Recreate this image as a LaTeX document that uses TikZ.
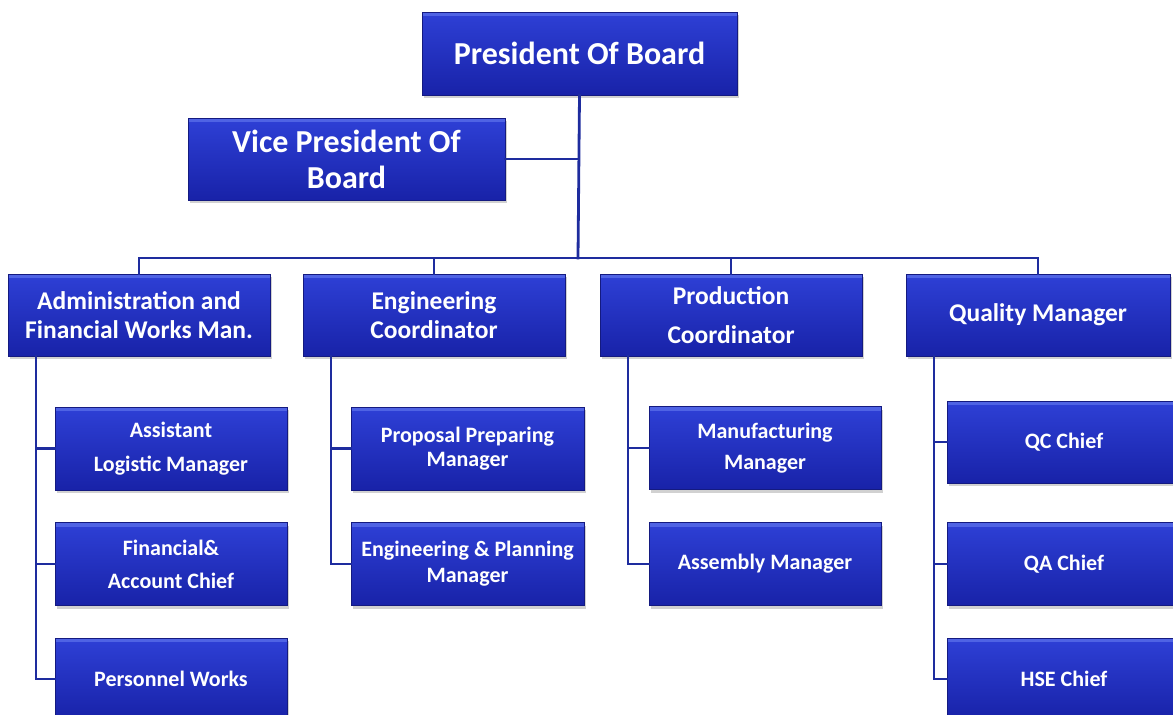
\documentclass[tikz,border=0pt]{standalone}
\usepackage{fontspec}
\setmainfont{Carlito}
\usetikzlibrary{shadows}
\definecolor{boxtop}{RGB}{46,64,214}
\definecolor{boxbot}{RGB}{24,34,168}
\definecolor{boxedge}{RGB}{20,26,128}
\definecolor{boxbevel}{RGB}{88,108,232}
\definecolor{wire}{RGB}{30,44,158}
\tikzset{
  orgbox/.style={rectangle, draw=boxedge, line width=0.6pt, top color=boxtop, bottom color=boxbot,
    text=white, align=center, inner sep=0pt, font=\bfseries,
    drop shadow={shadow xshift=2pt, shadow yshift=-3pt, opacity=0.3, fill=black!60},
    path picture={\fill[boxbevel,opacity=0.8] (path picture bounding box.north west) rectangle ([yshift=-4pt]path picture bounding box.north east);}},
  wireline/.style={draw=wire, line width=2.8pt, line cap=rect}
}
\begin{document}
\begin{tikzpicture}[x=1pt,y=-1pt]
\useasboundingbox (0,0) rectangle (1173,715);
% level 0
\node[orgbox, minimum width=315pt, minimum height=83pt, font=\bfseries\fontsize{32}{36}\selectfont] (pres) at (579.5,53.5) {President Of Board};
\node[orgbox, minimum width=317pt, minimum height=82pt, font=\bfseries\fontsize{32}{36}\selectfont] (vice) at (346.5,159) {Vice President Of\\Board};
% level 1
\node[orgbox, minimum width=262pt, minimum height=82pt, font=\bfseries\fontsize{25.5}{29}\selectfont] (admin) at (139,315) {Administration and\\Financial Works Man.};
\node[orgbox, minimum width=262pt, minimum height=82pt, font=\bfseries\fontsize{25.5}{29}\selectfont] (eng) at (434,315) {Engineering\\Coordinator};
\node[orgbox, minimum width=262pt, minimum height=82pt, font=\bfseries\fontsize{25.5}{39}\selectfont] (prod) at (731,315) {Production\\Coordinator};
\node[orgbox, minimum width=264pt, minimum height=82pt, font=\bfseries\fontsize{25.5}{29}\selectfont] (qual) at (1038,315) {Quality Manager};
% level 2 - admin
\node[orgbox, minimum width=232pt, minimum height=83pt, font=\bfseries\fontsize{22}{34}\selectfont] (asst) at (171,448.5) {Assistant\\Logistic Manager};
\node[orgbox, minimum width=232pt, minimum height=83pt, font=\bfseries\fontsize{22}{33}\selectfont] (fin) at (171,564) {Financial\&\\Account Chief};
\node[orgbox, minimum width=232pt, minimum height=82pt, font=\bfseries\fontsize{22}{26}\selectfont] (pers) at (171,679) {Personnel Works};
% level 2 - engineering
\node[orgbox, minimum width=233pt, minimum height=83pt, font=\bfseries\fontsize{22}{24}\selectfont] (prop) at (467.5,448.5) {Proposal Preparing\\Manager};
\node[orgbox, minimum width=233pt, minimum height=83pt, font=\bfseries\fontsize{22}{26}\selectfont] (engp) at (467.5,564) {Engineering \& Planning\\Manager};
% level 2 - production
\node[orgbox, minimum width=232pt, minimum height=83pt, font=\bfseries\fontsize{22}{31}\selectfont] (manu) at (765,448) {Manufacturing\\Manager};
\node[orgbox, minimum width=232pt, minimum height=83pt, font=\bfseries\fontsize{22}{26}\selectfont] (asm) at (765,564) {Assembly Manager};
% level 2 - quality
\node[orgbox, minimum width=234pt, minimum height=82pt, font=\bfseries\fontsize{22}{26}\selectfont] (qc) at (1064,442) {QC Chief};
\node[orgbox, minimum width=234pt, minimum height=83pt, font=\bfseries\fontsize{22}{26}\selectfont] (qa) at (1064,564) {QA Chief};
\node[orgbox, minimum width=234pt, minimum height=82pt, font=\bfseries\fontsize{22}{26}\selectfont] (hse) at (1064,679) {HSE Chief};
% connectors
\coordinate (bus) at (578,258);
\coordinate (aT) at (36,356);
\coordinate (eT) at (331,356);
\coordinate (pT) at (628,356);
\coordinate (qT) at (934,356);
\draw[wireline] (pres.south) -- (bus);
\draw[wireline] (vice.east) -- (vice.east -| bus);
\draw[wireline] (admin.north) |- (bus) -| (qual.north);
\draw[wireline] (eng.north) -- (eng.north |- bus);
\draw[wireline] (prod.north) -- (prod.north |- bus);
\draw[wireline] (aT) |- (pers.west);
\draw[wireline] (aT |- asst.west) -- (asst.west);
\draw[wireline] (aT |- fin.west) -- (fin.west);
\draw[wireline] (eT) |- (engp.west);
\draw[wireline] (eT |- prop.west) -- (prop.west);
\draw[wireline] (pT) |- (asm.west);
\draw[wireline] (pT |- manu.west) -- (manu.west);
\draw[wireline] (qT) |- (hse.west);
\draw[wireline] (qT |- qc.west) -- (qc.west);
\draw[wireline] (qT |- qa.west) -- (qa.west);
\end{tikzpicture}
\end{document}
